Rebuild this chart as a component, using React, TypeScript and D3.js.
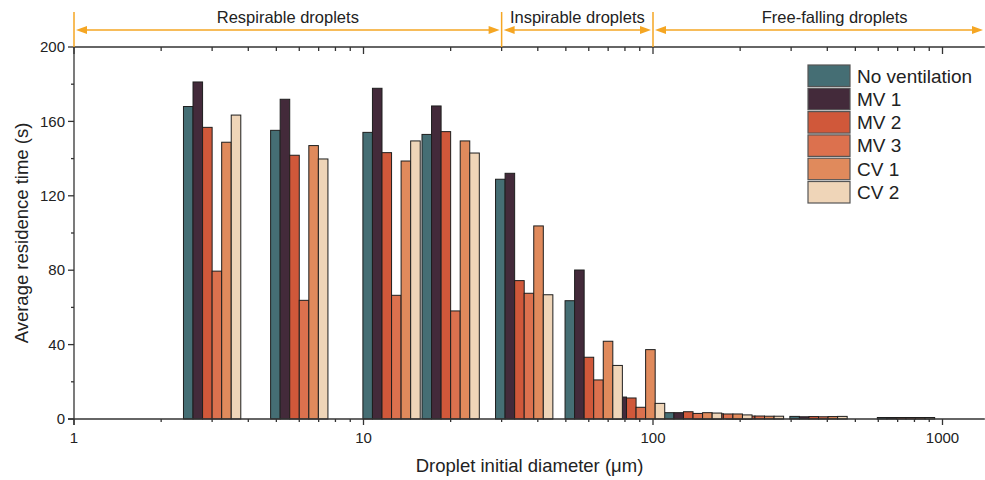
import * as d3 from "d3";

// Droplet initial diameter (µm), one bar group per diameter
const diameters = [3, 6, 12.5, 20, 35.9, 62.4, 87.4, 137.5, 175, 225, 373, 748];

const seriesNames = ["No ventilation", "MV 1", "MV 2", "MV 3", "CV 1", "CV 2"];
const seriesColors = ["#456e74", "#432a3a", "#d0583a", "#dc714e", "#e08a5c", "#efd5b8"];

// Average residence time (s)
const noVentilation = [168, 155.2, 154.1, 153, 128.9, 63.6, 12, 3.4, 2.5, 1.6, 1.4, 0.8];
const mv1 = [181.2, 171.9, 177.8, 168.3, 132.1, 80.1, 11.8, 3.4, 2.6, 1.7, 1.2, 0.8];
const mv2 = [156.8, 141.8, 143.2, 154.5, 74.4, 33.2, 11.3, 3.9, 2.8, 1.6, 1.3, 0.8];
const mv3 = [79.5, 63.8, 66.5, 58.1, 67.6, 21, 6.3, 3.0, 2.7, 1.6, 1.2, 0.8];
const cv1 = [148.8, 147, 138.7, 149.5, 103.8, 41.8, 37.3, 3.4, 2.7, 1.5, 1.3, 0.8];
const cv2 = [163.4, 139.8, 149.5, 143, 66.8, 28.8, 8.4, 3.2, 2.2, 1.5, 1.4, 0.8];
const seriesValues = [noVentilation, mv1, mv2, mv3, cv1, cv2];

const yTicks = [0, 40, 80, 120, 160, 200];
const yMinorTicks = [20, 60, 100, 140, 180];
const xTicks = [1, 10, 100, 1000];

// droplet classes along the top
const zoneLabels = ["Respirable droplets", "Inspirable droplets", "Free-falling droplets"];
const zoneBounds = [1, 30, 100, 1800];

const W = 985;
const H = 480;
const X0 = 74;
const DECADE = 289.5;
const X_MAX = 1400;
const BAR_W = 0.033; // bar width in decades

const FONT = "'Liberation Sans', Arial, sans-serif";
const ORANGE = "#f5a623";
const AXIS = "#333";

export default function App() {
  const x = d3
    .scaleLog()
    .domain([1, X_MAX])
    .range([X0, X0 + DECADE * Math.log10(X_MAX)]);
  const y = d3.scaleLinear().domain([0, 200]).range([419, 47]);
  const [xl, xr] = x.range();
  const [yb, yt] = y.range();

  const minorX: number[] = [];
  for (let k = 0; k < 4; k++)
    for (let m = 2; m < 10; m++) {
      const v = m * 10 ** k;
      if (v <= X_MAX) minorX.push(v);
    }

  const nS = seriesNames.length;

  return (
    <svg
      width={W}
      height={H}
      style={{ position: "absolute", left: 0, top: 0, background: "#fff" }}
      fontFamily={FONT}
    >
      {/* bars, series by series so later series sit on top */}
      {seriesValues.map((vals, s) =>
        vals.map((v, g) => {
          const d = diameters[g];
          const a = x(d * 10 ** ((s - nS / 2) * BAR_W));
          const b = x(d * 10 ** ((s + 1 - nS / 2) * BAR_W));
          return (
            <rect
              key={`${s}-${g}`}
              x={a}
              y={y(v)}
              width={b - a}
              height={yb - y(v)}
              fill={seriesColors[s]}
              stroke="#1e1e1e"
              strokeWidth={1}
            />
          );
        })
      )}

      {/* axes */}
      <g stroke={AXIS} strokeWidth={1.3} fill="none">
        <line x1={xl} x2={xl} y1={yt} y2={yb + 6} />
        <line x1={xl - 6} x2={xr} y1={yb} y2={yb} />
        <line x1={xl} x2={xr} y1={yt} y2={yt} />
        {yTicks.map((t) => (
          <line key={t} x1={xl - 6} x2={xl} y1={y(t)} y2={y(t)} />
        ))}
        {yMinorTicks.map((t) => (
          <line key={t} x1={xl - 3} x2={xl} y1={y(t)} y2={y(t)} />
        ))}
        {xTicks.map((t) => (
          <g key={t}>
            <line x1={x(t)} x2={x(t)} y1={yb} y2={yb + 6} />
            <line x1={x(t)} x2={x(t)} y1={yt} y2={yt + 7} />
          </g>
        ))}
        {minorX.map((t) => (
          <g key={t}>
            <line x1={x(t)} x2={x(t)} y1={yb} y2={yb + 3} />
            <line x1={x(t)} x2={x(t)} y1={yt} y2={yt + 4} />
          </g>
        ))}
      </g>

      <g fill="#222" fontSize={15}>
        {yTicks.map((t) => (
          <text key={t} x={xl - 9} y={y(t)} dy="0.35em" textAnchor="end">
            {t}
          </text>
        ))}
        {xTicks.map((t) => (
          <text key={t} x={x(t)} y={yb + 24} textAnchor="middle">
            {t}
          </text>
        ))}
      </g>

      <text
        x={(xl + 985) / 2}
        y={472}
        textAnchor="middle"
        fontSize={18.5}
        fill="#222"
      >
        Droplet initial diameter (μm)
      </text>
      <text
        transform={`translate(28,${(yt + yb) / 2}) rotate(-90)`}
        textAnchor="middle"
        fontSize={18.5}
        fill="#222"
      >
        Average residence time (s)
      </text>

      {/* droplet class arrows */}
      <g>
        {zoneBounds.slice(0, -1).map((b) => (
          <line key={b} x1={x(b)} x2={x(b)} y1={12} y2={yt} stroke={ORANGE} strokeWidth={1.5} />
        ))}
        {zoneLabels.map((label, i) => {
          const a = x(zoneBounds[i]) + 2;
          const b = Math.min(x(zoneBounds[i + 1]), W) - 2;
          const cy = 30;
          return (
            <g key={label}>
              <line x1={a + 6} x2={b - 6} y1={cy} y2={cy} stroke={ORANGE} strokeWidth={1.5} />
              <path d={`M${a},${cy}L${a + 11},${cy - 4}L${a + 11},${cy + 4}Z`} fill={ORANGE} />
              <path d={`M${b},${cy}L${b - 11},${cy - 4}L${b - 11},${cy + 4}Z`} fill={ORANGE} />
              <text
                x={(x(zoneBounds[i]) + x(zoneBounds[i + 1])) / 2}
                y={23}
                textAnchor="middle"
                fontSize={16.5}
                fill="#222"
              >
                {label}
              </text>
            </g>
          );
        })}
      </g>

      {/* legend */}
      <g>
        {seriesNames.map((name, i) => {
          const top = 65 + i * 23.3;
          return (
            <g key={name}>
              <rect
                x={808}
                y={top}
                width={42}
                height={21.5}
                fill={seriesColors[i]}
                stroke="#555"
                strokeWidth={1.2}
              />
              <text x={857} y={top + 17.5} fontSize={19} fill="#222">
                {name}
              </text>
            </g>
          );
        })}
      </g>
    </svg>
  );
}
